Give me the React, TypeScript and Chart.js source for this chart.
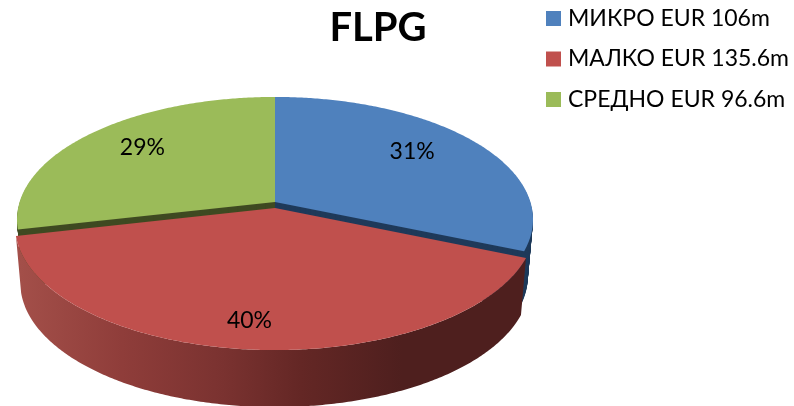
import React, { useEffect, useRef } from "react";
import { Chart, registerables } from "chart.js";

Chart.register(...registerables);

const categories = ["МИКРО", "МАЛКО", "СРЕДНО"];
const valuesEurM = [106, 135.6, 96.6];
const sliceColors = ["#4F81BD", "#C0504D", "#9BBB59"];
const innerWallColors = ["#1F3A5A", "#4D1F1E", "#3F4A22"];
const explode = [0, 0.05, 0];
const labelRadius = [0.7, 0.81, 0.74];
const labelNudgeX = [-4, -5, 6];
const labelNudgeY = [-6, 2, -2];
const titleText = "FLPG";
const FONT = "Lato, Carlito, 'Open Sans', sans-serif";

const APEX_X = 275, APEX_Y = 202, RX = 255.4, RY = 120, PERSP = -0.142, DEPTH = 57, SHRINK = 0.02;

function project(u: number, v: number, d = 0) {
  const w = 1 + PERSP * v;
  const x = (RX * u) / w * (1 - SHRINK * d);
  const y = (RY * v) / w + DEPTH * d;
  return { x: APEX_X + x, y: APEX_Y + y };
}

function sector(ctx: CanvasRenderingContext2D, a0: number, a1: number, dv: number, d: number) {
  const n = Math.ceil(Math.abs(a1 - a0) / 0.01);
  ctx.beginPath();
  const c = project(0, dv, d);
  ctx.moveTo(c.x, c.y);
  for (let i = 0; i <= n; i++) {
    const a = a0 + ((a1 - a0) * i) / n;
    const p = project(Math.cos(a), Math.sin(a) + dv, d);
    ctx.lineTo(p.x, p.y);
  }
  ctx.closePath();
}

function rimWall(ctx: CanvasRenderingContext2D, a0: number, a1: number, dv: number) {
  const n = Math.ceil(Math.abs(a1 - a0) / 0.01);
  ctx.beginPath();
  for (let i = 0; i <= n; i++) {
    const a = a0 + ((a1 - a0) * i) / n;
    const p = project(Math.cos(a), Math.sin(a) + dv, 0);
    if (i === 0) ctx.moveTo(p.x, p.y);
    else ctx.lineTo(p.x, p.y);
  }
  for (let i = n; i >= 0; i--) {
    const a = a0 + ((a1 - a0) * i) / n;
    const p = project(Math.cos(a), Math.sin(a) + dv, 1);
    ctx.lineTo(p.x, p.y);
  }
  ctx.closePath();
}

const pie3d = {
  id: "pie3d",
  afterLayout(chart: any) {
    const t = chart.titleBlock;
    t.left = 0;
    t.right = 756;
    t.top = 4;
    const l = chart.legend;
    l.left = 533;
    l.top = -10.5;
  },
  beforeDatasetDraw() {
    return false;
  },
  afterDatasetsDraw(chart: any) {
    const ctx: CanvasRenderingContext2D = chart.ctx;
    const arcs = chart.getDatasetMeta(0).data;
    const total = valuesEurM.reduce((s, v) => s + v, 0);
    ctx.save();
    const order = [0, 2, 1];
    for (const i of order) {
      const { startAngle, endAngle } = arcs[i];
      const dv = explode[i];
      if (i !== 1) {
        ctx.fillStyle = innerWallColors[i];
        for (let s = DEPTH; s >= 1; s--) {
          sector(ctx, startAngle, endAngle, dv, s / DEPTH);
          ctx.fill();
        }
      } else {
        const g = ctx.createLinearGradient(20, 0, 530, 0);
        g.addColorStop(0, "#A34F49");
        g.addColorStop(0.2, "#8F3D3A");
        g.addColorStop(0.4, "#7A3230");
        g.addColorStop(0.55, "#642725");
        g.addColorStop(0.75, "#4E1F1E");
        g.addColorStop(1, "#4E1F1E");
        ctx.fillStyle = g;
        rimWall(ctx, startAngle, endAngle, dv);
        ctx.fill();
      }
      ctx.fillStyle = sliceColors[i];
      sector(ctx, startAngle, endAngle, dv, 0);
      ctx.fill();
    }
    ctx.fillStyle = "#000";
    ctx.font = `23px ${FONT}`;
    ctx.textAlign = "center";
    ctx.textBaseline = "middle";
    for (let i = 0; i < arcs.length; i++) {
      const { startAngle, endAngle } = arcs[i];
      const m = (startAngle + endAngle) / 2;
      const f = labelRadius[i];
      const p = project(Math.cos(m) * f, Math.sin(m) * f + explode[i], 0);
      ctx.fillText(`${Math.round((valuesEurM[i] / total) * 100)}%`, p.x + labelNudgeX[i], p.y + labelNudgeY[i]);
    }
    ctx.restore();
  },
};

export default function App() {
  const ref = useRef<HTMLCanvasElement>(null);
  useEffect(() => {
    document.body.style.margin = "0";
    const chart = new Chart(ref.current!, {
      type: "pie",
      data: {
        labels: categories.map((c, i) => `${c} EUR ${valuesEurM[i]}m`),
        datasets: [{ data: valuesEurM, backgroundColor: sliceColors, borderWidth: 0 }],
      },
      options: {
        responsive: false,
        animation: false,
        plugins: {
          tooltip: { enabled: false },
          title: {
            display: true,
            text: titleText,
            color: "#000",
            font: { family: FONT, size: 40, weight: "bold" },
            padding: 0,
          },
          legend: {
            position: "right",
            align: "start",
            labels: {
              color: "#000",
              usePointStyle: true,
              pointStyle: "rect",
              boxWidth: 6,
              boxHeight: 15,
              padding: 17.5,
              font: { family: FONT, size: 23 },
            },
          },
        },
      },
      plugins: [pie3d],
    } as any);
    return () => chart.destroy();
  }, []);
  return <canvas ref={ref} width={794} height={406} style={{ display: "block" }} />;
}
